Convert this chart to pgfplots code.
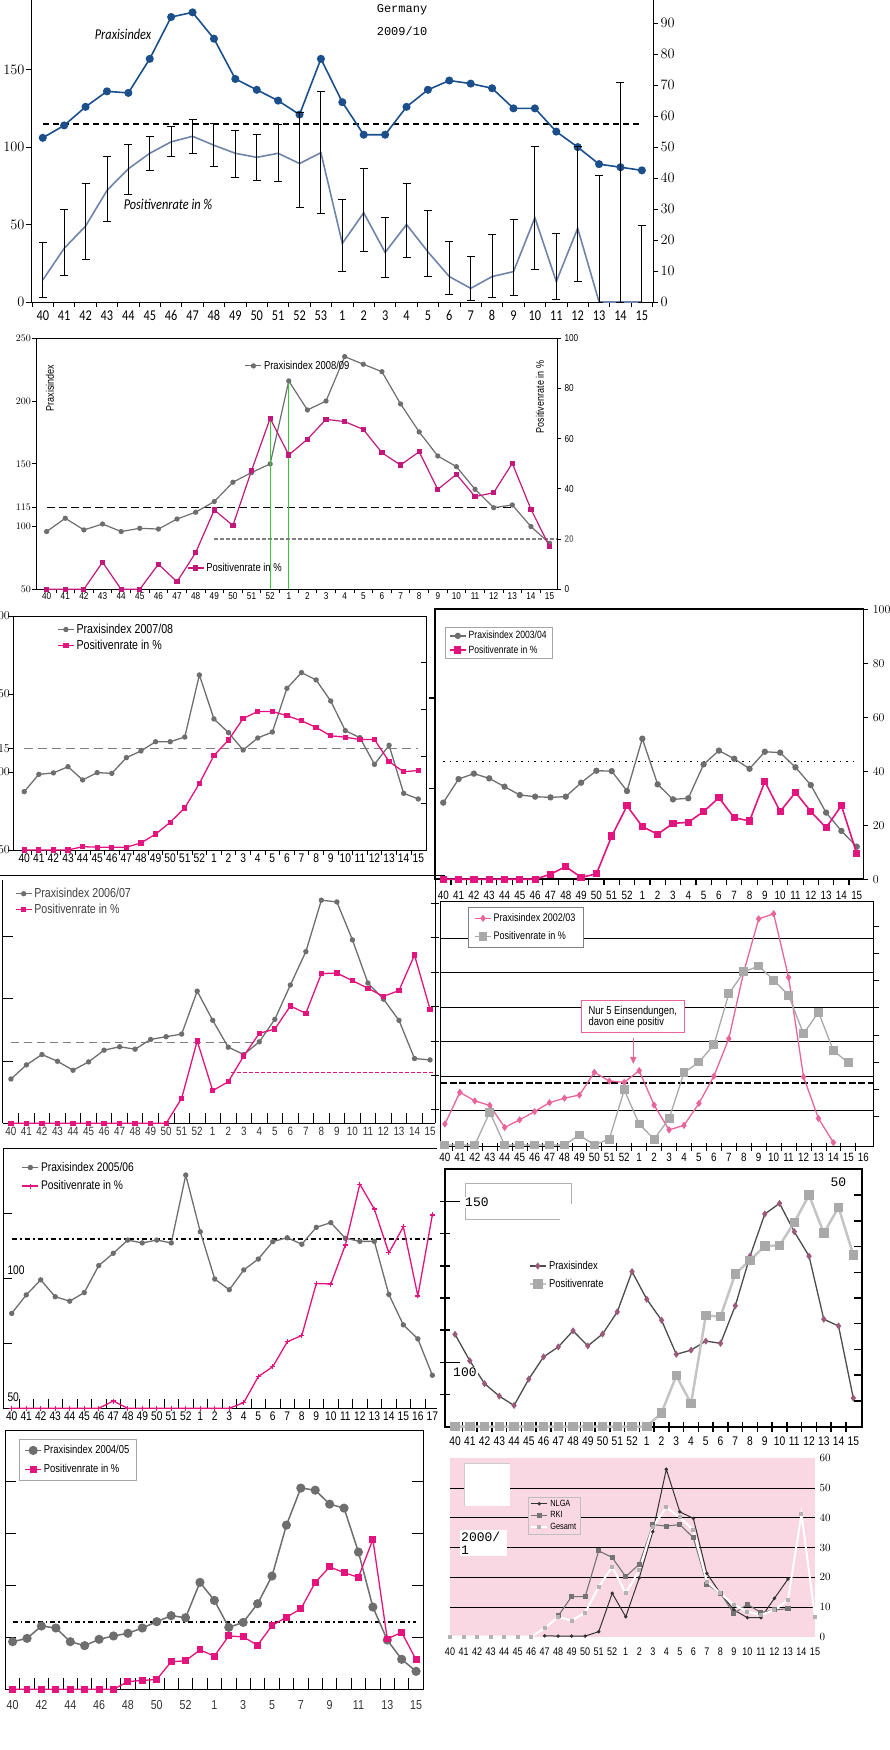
\documentclass[border=0pt]{standalone}
\usepackage{fontspec}
\setmainfont{Liberation Sans}
\newfontfamily\narrow[FakeStretch=0.82]{Liberation Sans}
\newfontfamily\hum[FakeStretch=0.82]{Carlito}
\newfontfamily\mono{Liberation Mono}
\usepackage{pgfplots}
\pgfplotsset{compat=1.18}
\usetikzlibrary{arrows.meta}

\definecolor{dblue}{HTML}{1B4F8C}
\definecolor{gblue}{HTML}{7084AA}
\definecolor{pgrey}{HTML}{6E6E6E}
\definecolor{magA}{HTML}{C2187C}
\definecolor{magB}{HTML}{E4147E}
\definecolor{pinkC}{HTML}{E8649A}
\definecolor{lgreyA}{HTML}{A9A9A9}
\definecolor{lgreyB}{HTML}{C4C4C4}
\definecolor{mauve}{HTML}{9C5A7A}
\definecolor{pinkbg}{HTML}{F9D8E4}
\definecolor{lgreen}{HTML}{33CC33}

\newcommand{\fs}[1]{\fontsize{#1}{#1}\selectfont}

\pgfplotsset{
  base/.style={scale only axis, anchor=south west, clip=false,
    major tick length=0pt, minor tick length=5pt,
    tick style={black, line width=0.8pt}, axis line style={black, line width=0.8pt},
    legend cell align=left,
    legend image code/.code={\draw[mark repeat=2,mark phase=2,##1] plot coordinates {(0pt,0pt) (8pt,0pt) (16pt,0pt)};},
  },
}

\begin{document}
\begin{tikzpicture}[x=1pt,y=1pt]
\useasboundingbox (0,0) rectangle (890,1750);
\clip (0,0) rectangle (890,1750);

% ================= Panel 1: Germany 2009/10 =================
\begin{axis}[base, at={(31pt,1448pt)}, width=622pt, height=302pt,
  xmin=-0.55, xmax=28.52, ymin=0, ymax=195,
  axis x line*=bottom, axis y line*=left, tick align=outside,
  xtick={0,...,28},
  xticklabels={40,41,42,43,44,45,46,47,48,49,50,51,52,53,1,2,3,4,5,6,7,8,9,10,11,12,13,14,15},
  minor xtick={-0.5,0.5,...,28.5},
  ytick={0,50,100,150}, minor ytick={0,50,100,150},
  tick label style={font=\hum\fs{15}},
  xticklabel style={yshift=-5pt}, yticklabel style={xshift=-3pt},
]
\addplot[forget plot, black, line width=1.3pt, dash pattern=on 6pt off 4pt] coordinates {(0,115) (28,115)};
\addplot[dblue, line width=1.6pt, mark=*, mark size=3.2pt] table {
x y
0 106
1 114
2 126
3 136
4 135
5 157
6 184
7 187
8 170
9 144
10 137
11 130
12 121
13 157
14 129
15 108
16 108
17 126
18 137
19 143
20 141
21 138
22 125
23 125
24 110
25 100
26 89
27 87
28 85
};
\end{axis}
\begin{axis}[base, at={(31pt,1448pt)}, width=622pt, height=302pt,
  xmin=-0.55, xmax=28.52, ymin=0, ymax=97.5,
  axis x line=none, axis y line*=right, tick align=outside,
  ytick={0,10,...,90}, minor ytick={0,10,...,90},
  tick label style={font=\hum\fs{15}}, yticklabel style={xshift=4pt},
]
\addplot[gblue, line width=1.6pt, no marks,
  error bars/.cd, y dir=both, y explicit,
  error bar style={black, line width=0.9pt},
  error mark options={black, rotate=90, mark size=4pt, line width=0.9pt}]
  table[x=x, y=y, y error plus=ep, y error minus=em] {
x y ep em
0 7.1 12.1 5.5
1 17.3 12.6 8.7
2 24.5 13.9 10.7
3 36 11.1 10
4 43 7.9 8.3
5 48 5.4 5.5
6 51.7 5.1 4.6
7 53.5 5.4 5.5
8 50.6 6.9 6.9
9 48 7.5 7.7
10 46.7 7.4 7.5
11 48 9.4 9.1
12 44.7 16.4 14.2
13 48.2 19.8 19.6
14 18.9 14.2 9
15 28.8 14.3 12.5
16 16 11.3 8
17 25 13.3 10.7
18 16.2 13.2 8.1
19 8.2 11.4 5.9
20 4.4 10.2 3.9
21 8.2 13.6 6.6
22 9.8 16.7 7.6
23 27.2 23.1 16.7
24 6.6 15.6 5.8
25 23.8 26.5 17.1
26 0 41 0
27 0 70.8 0
28 0 24.7 0
};
\end{axis}
\node[font=\hum\itshape\fs{15}] at (123,1716) {Praxisindex};
\node[font=\hum\itshape\fs{15}] at (168,1546) {Positivenrate in \%};
\node[font=\mono\fs{12}] at (402,1740) {Germany};
\node[font=\mono\fs{12}] at (402,1719) {2009/10};

% ================= Panel 2: 2008/09 =================
\begin{axis}[base, at={(36.4pt,1160.7pt)}, width=520.6pt, height=251pt,
  xmin=-0.55, xmax=27.4, ymin=50, ymax=250,
  xtick pos=left, ytick pos=left, tick align=outside, minor tick length=4pt,
  xtick={0,...,27},
  xticklabels={40,41,42,43,44,45,46,47,48,49,50,51,52,1,2,3,4,5,6,7,8,9,10,11,12,13,14,15},
  minor xtick={0.5,1.5,...,26.5},
  ytick={50,100,115,150,200,250}, minor ytick={50,100,115,150,200,250},
  tick label style={font=\narrow\fs{10}}, yticklabel style={xshift=-2pt},
  legend style={draw=none, fill=none, at={(0.40,0.89)}, anchor=west, font=\narrow\fs{11.5}, inner sep=0pt},
]
\addplot[forget plot, black, line width=1pt, dash pattern=on 8pt off 4pt] coordinates {(0,115) (25,115)};
\addplot[pgrey, line width=1.2pt, mark=*, mark size=2pt] table {
x y
0 96
1 106.6
2 97.3
3 102
4 96
5 98.6
6 98
7 106
8 111.4
9 119.9
10 135.3
11 143
12 149.9
13 216
14 192.9
15 200
16 235.4
17 229.3
18 223.4
19 197.7
20 175.4
21 156.2
22 147.7
23 129.7
24 115
25 117.2
26 100
27 86.7
};
\addlegendentry{Praxisindex 2008/09}
\addplot[forget plot, lgreen, line width=1.2pt] coordinates {(13,50) (13,216)};
\end{axis}
\begin{axis}[base, at={(36.4pt,1160.7pt)}, width=520.6pt, height=251pt,
  xmin=-0.55, xmax=27.4, ymin=0, ymax=100,
  hide x axis, axis y line*=right, tick align=outside, major tick length=4pt,
  ytick={0,20,...,100},
  yticklabels={0,{\color{gray}\bfseries 20},40,60,80,100},
  tick label style={font=\narrow\fs{10}},
  legend style={draw=none, fill=none, at={(0.289,0.085)}, anchor=west, font=\narrow\fs{11.5}, inner sep=0pt},
]
\addplot[forget plot, gray, line width=1.3pt, dash pattern=on 4pt off 2pt] coordinates {(9,20) (27.4,20)};
\addplot[magA, line width=1.2pt, mark=square*, mark size=2pt] table {
x y
0 0
1 0
2 0
3 10.8
4 0
5 0
6 10
7 3
8 14.6
9 31.6
10 25.4
11 47.3
12 68.1
13 53.5
14 59.8
15 67.7
16 66.8
17 63.7
18 54.4
19 49.5
20 54.8
21 39.8
22 45.8
23 36.9
24 38.5
25 50.2
26 31.9
27 17
};
\addlegendentry{Positivenrate in \%}
\addplot[forget plot, lgreen, line width=1.2pt] coordinates {(12,0) (12,68.1)};
\end{axis}
\node[rotate=90, font=\narrow\fs{11}] at (50,1362) {Praxisindex};
\node[rotate=90, font=\narrow\fs{11}] at (540,1353) {Positivenrate in \%};

% ================= Panel 3 left: 2007/08 =================
\begin{axis}[base, at={(13.3pt,900pt)}, width=412.7pt, height=234pt,
  xmin=-0.75, xmax=27.53, ymin=50, ymax=200,
  xtick pos=left, ytick pos=left, tick align=outside,
  xtick={0,...,27},
  xticklabels={40,41,42,43,44,45,46,47,48,49,50,51,52,1,2,3,4,5,6,7,8,9,10,11,12,13,14,15},
  minor xtick={0.5,1.5,...,26.5},
  ytick={50,100,115,150,200}, minor ytick={50,100,115,150,200},
  tick label style={font=\narrow\fs{12.5}},
]
\addplot[forget plot, gray, line width=1.2pt, dash pattern=on 9pt off 5pt] coordinates {(0,115) (27,115)};
\addplot[pgrey, line width=1.3pt, mark=*, mark size=2pt] table {
x y
0 87.4
1 98.5
2 99.4
3 103.4
4 94.9
5 99.6
6 99.1
7 109.2
8 113.5
9 119.4
10 119.4
11 122.4
12 162.2
13 134
14 125.2
15 114.1
16 121.8
17 125.6
18 153.6
19 163.7
20 159
21 145.5
22 126.5
23 122
24 104.9
25 117.1
26 86.3
27 82.7
};
\end{axis}
\begin{axis}[base, at={(13.3pt,900pt)}, width=412.7pt, height=234pt,
  xmin=-0.75, xmax=27.53, ymin=0, ymax=50,
  hide x axis, axis y line*=right, tick align=inside, major tick length=5pt,
  ytick={10,20,30,40}, yticklabels={},
  legend style={draw=none, fill=none, at={(0.106,0.975)}, anchor=north west, font=\narrow\fs{13}, inner sep=0pt, row sep=1pt},
]
\addlegendimage{pgrey, line width=1.3pt, mark=*, mark size=2pt}
\addlegendentry{Praxisindex 2007/08}
\addplot[magB, line width=1.3pt, mark=square*, mark size=2pt] table {
x y
0 0
1 0
2 0
3 0
4 0.7
5 0.6
6 0.6
7 0.6
8 1.5
9 3.4
10 5.9
11 9
12 14.2
13 20.2
14 23.5
15 28.1
16 29.6
17 29.6
18 28.7
19 27.6
20 26.2
21 24.4
22 24.1
23 23.6
24 23.6
25 18.9
26 16.7
27 17
};
\addlegendentry{Positivenrate in \%}
\end{axis}
\draw[black, line width=0.8pt] (0,875) -- (445,875);

% ================= Panel 3 right: 2003/04 =================
\begin{axis}[base, at={(435pt,870.7pt)}, width=428.3pt, height=270pt,
  xmin=-0.54, xmax=27.43, ymin=50, ymax=199,
  axis line style={line width=1.6pt}, tick style={line width=1.2pt},
  xtick pos=left, ytick pos=left, tick align=outside, minor tick length=6pt,
  xtick={0,...,27},
  xticklabels={40,41,42,43,44,45,46,47,48,49,50,51,52,1,2,3,4,5,6,7,8,9,10,11,12,13,14,15},
  minor xtick={0.5,1.5,...,26.5},
  ytick={100,150}, yticklabels={}, minor ytick={100,150},
  tick label style={font=\narrow\fs{12}}, xticklabel style={yshift=-8pt},
]
\addplot[forget plot, black, line width=1.2pt, dash pattern=on 1.5pt off 5pt] coordinates {(0,115) (27,115)};
\addplot[pgrey, line width=1.3pt, mark=*, mark size=2.5pt] table {
x y
0 92.3
1 105.3
2 108.3
3 105.7
4 101.1
5 96.5
6 95.6
7 95.2
8 95.6
9 103.3
10 109.9
11 109.7
12 98.7
13 127.6
14 102.4
15 94.1
16 94.7
17 113.4
18 121
19 116.5
20 111
21 120.4
22 119.9
23 111.8
24 102
25 86.8
26 76.7
27 68
};
\end{axis}
\begin{axis}[base, at={(435pt,870.7pt)}, width=428.3pt, height=270pt,
  xmin=-0.54, xmax=27.43, ymin=0, ymax=100,
  hide x axis, axis y line*=right, axis line style={line width=1.6pt}, tick style={line width=1.2pt},
  tick align=outside, major tick length=5pt,
  ytick={0,20,...,100},
  tick label style={font=\narrow\fs{12}}, yticklabel style={xshift=1pt},
  legend style={draw=gray!70, fill=white, at={(0.023,0.934)}, anchor=north west, font=\narrow\fs{10.5}, inner xsep=4pt, inner ysep=2pt, row sep=1pt},
]
\addlegendimage{pgrey, line width=1.3pt, mark=*, mark size=2.5pt}
\addlegendentry{Praxisindex 2003/04}
\addplot[magB, line width=1.6pt, mark=square*, mark size=2.8pt] table {
x y
0 0
1 0
2 0
3 0
4 0
5 0
6 0
7 1.9
8 4.7
9 0.7
10 2
11 16
12 27.2
13 19.5
14 16.7
15 20.7
16 21.1
17 25.1
18 30.2
19 22.8
20 21.6
21 36.2
22 25.1
23 32.2
24 25.1
25 19.1
26 27.3
27 9.6
};
\addlegendentry{Positivenrate in \%}
\end{axis}

% ================= Panel 4 left: 2006/07 =================
\begin{axis}[base, at={(2.7pt,626.7pt)}, width=432.3pt, height=243.3pt,
  xmin=-0.53, xmax=27.32, ymin=50, ymax=245,
  axis x line*=bottom, axis y line*=left, tick align=inside, minor tick length=10pt,
  xtick={0,...,27},
  xticklabels={40,41,42,43,44,45,46,47,48,49,50,51,52,1,2,3,4,5,6,7,8,9,10,11,12,13,14,15},
  minor xtick={0.5,1.5,...,26.5},
  ytick={100,150,200}, yticklabels={}, minor ytick={100,150,200},
  tick label style={font=\narrow\fs{12}, color=black!80},
]
\addplot[forget plot, gray, line width=1.1pt, dash pattern=on 8pt off 5pt] coordinates {(0,115) (15.6,115)};
\addplot[pgrey, line width=1.3pt, mark=*, mark size=2pt] table {
x y
0 85.5
1 96.8
2 105.1
3 99.7
4 92.5
5 99.2
6 108.6
7 111.3
8 109.4
9 117.2
10 119.4
11 121.5
12 155.9
13 132.5
14 111
15 105.1
16 115.3
17 133.3
18 160.8
19 187.6
20 228.8
21 227.4
22 197
23 162.4
24 149.5
25 132.5
26 101.9
27 100.8
};
\end{axis}
\begin{axis}[base, at={(2.7pt,626.7pt)}, width=432.3pt, height=243.3pt,
  xmin=-0.53, xmax=27.32, ymin=0, ymax=96.05,
  hide x axis, axis y line*=right, tick align=center, major tick length=8pt,
  ytick={5.3,18.9,32.5,46.1,59.7,73.3,86.9}, yticklabels={},
  legend style={draw=none, fill=none, at={(0.028,0.975)}, anchor=north west, font=\narrow\fs{13}, text=black!75, inner sep=0pt, row sep=1pt},
]
\addlegendimage{pgrey, line width=1.3pt, mark=*, mark size=2pt}
\addlegendentry{Praxisindex 2006/07}
\addplot[forget plot, magB, line width=1.3pt, dash pattern=on 4pt off 2pt] coordinates {(14.2,20) (27.32,20)};
\addplot[magB, line width=1.3pt, mark=square*, mark size=2pt] table {
x y
0 0
1 0
2 0
3 0
4 0
5 0
6 0
7 0
8 0
9 0
10 0
11 9.9
12 32.5
13 12.9
14 16.4
15 26.6
16 35.5
17 37.2
18 46.3
19 43.4
20 59.1
21 59.3
22 56.3
23 53.3
24 50.1
25 52.4
26 66.4
27 45
};
\addlegendentry{Positivenrate in \%}
\end{axis}

% ================= Panel 4 right: 2002/03 =================
\begin{axis}[base, at={(440pt,603.3pt)}, width=433.3pt, height=245pt,
  xmin=-0.33, xmax=28.67, ymin=-0.05, ymax=7.07,
  xtick pos=left, ytick pos=left, tick align=center, minor tick length=8pt,
  xtick={0,...,28},
  xticklabels={40,41,42,43,44,45,46,47,48,49,50,51,52,1,2,3,4,5,6,7,8,9,10,11,12,13,14,15,16},
  minor xtick={0.5,1.5,...,27.5},
  ytick={1,2,3,4,5,6}, yticklabels={}, ymajorgrids, grid style={black, line width=0.9pt},
  tick label style={font=\narrow\fs{12}}, xticklabel style={yshift=-3pt},
  legend style={draw=gray, fill=white, at={(0.065,0.977)}, anchor=north west, font=\narrow\fs{11}, inner xsep=6pt, inner ysep=4pt, row sep=5pt},
]
\addplot[forget plot, black, line width=1.8pt, dash pattern=on 7pt off 2.5pt] coordinates {(-0.33,1.79) (28.67,1.79)};
\addplot[pinkC, line width=1.3pt, mark=diamond*, mark size=2.6pt] table {
x y
0 0.61
1 1.53
2 1.28
3 1.15
4 0.51
5 0.73
6 0.97
7 1.23
8 1.36
9 1.45
10 2.11
11 1.86
12 1.82
13 2.16
14 1.16
15 0.44
16 0.57
17 1.21
18 2
19 3.09
20 5.03
21 6.57
22 6.72
23 4.87
24 1.98
25 0.77
26 0.07
};
\addlegendentry{Praxisindex 2002/03}
\addplot[lgreyA, line width=1.3pt, mark=square*, mark size=3.8pt] table {
x y
0 0
1 0
2 0
3 0.95
4 0
5 0
6 0
7 0
8 0
9 0.29
10 0
11 0.17
12 1.6
13 0.61
14 0.17
15 0.76
16 2.1
17 2.41
18 2.91
19 4.39
20 5.03
21 5.2
22 4.79
23 4.35
24 3.23
25 3.86
26 2.74
27 2.39
};
\addlegendentry{Positivenrate in \%}
\end{axis}
\begin{axis}[base, at={(440pt,603.3pt)}, width=433.3pt, height=245pt,
  xmin=-0.33, xmax=28.67, ymin=-0.05, ymax=7.07,
  hide x axis, axis y line*=right, tick align=outside, major tick length=6pt,
  ytick={0.82,1.62,2.4,3.19,3.99,4.79,5.57,6.34}, yticklabels={},
]
\addplot[draw=none] coordinates {(0,0)};
\end{axis}
\node[draw=pinkC, line width=1pt, fill=white, align=left, font=\narrow\fs{11.5}, inner xsep=7pt, inner ysep=5pt] at (632.8,733.2) {Nur 5 Einsendungen,\\davon eine positiv};
\draw[pinkC, line width=1.3pt, -{Triangle[length=7pt,width=6pt]}] (633.3,712) -- (633.3,686);

% ================= Panel 5 left: 2005/06 =================
\begin{axis}[base, at={(3.3pt,341.7pt)}, width=433.4pt, height=260pt,
  xmin=-0.58, xmax=29.3, ymin=50, ymax=150,
  axis x line*=bottom, axis y line*=left, tick align=inside, minor tick length=9pt,
  xtick={0,...,29},
  xticklabels={40,41,42,43,44,45,46,47,48,49,50,51,52,1,2,3,4,5,6,7,8,9,10,11,12,13,14,15,16,17},
  minor xtick={0.5,1.5,...,28.5},
  ytick={75,100,125}, yticklabels={}, minor ytick={75,100,125},
  tick label style={font=\narrow\fs{12.5}},
]
\draw[black, line width=0.8pt] (rel axis cs:0,1) -- (rel axis cs:1,1);
\addplot[forget plot, black, line width=1.8pt, dash pattern=on 5pt off 3pt on 2pt off 3pt] coordinates {(0,115) (29,115)};
\addplot[pgrey, line width=1.3pt, mark=*, mark size=2pt] table {
x y
0 86.5
1 93.6
2 99.4
3 92.9
4 91.2
5 94.5
6 104.9
7 109.6
8 114.7
9 113.6
10 114.7
11 113.6
12 139.7
13 117.9
14 99.7
15 95.6
16 103.2
17 107.4
18 114.1
19 115.6
20 113.1
21 119.6
22 121.4
23 115.4
24 114.2
25 114.2
26 93.8
27 82.1
28 76.7
29 62.7
};
\end{axis}
\begin{axis}[base, at={(3.3pt,341.7pt)}, width=433.4pt, height=260pt,
  xmin=-0.58, xmax=29.3, ymin=0, ymax=50, hide axis,
  legend style={draw=none, fill=none, at={(0.042,0.955)}, anchor=north west, font=\narrow\fs{12.5}, inner sep=0pt, row sep=4pt},
]
\addlegendimage{pgrey, line width=1.3pt, mark=*, mark size=2pt}
\addlegendentry{Praxisindex 2005/06}
\addplot[magB, line width=1.3pt, mark=+, mark size=2.5pt] table {
x y
0 0
1 0
2 0
3 0
4 0
5 0
6 0
7 1.4
8 0
9 0
10 0
11 0
12 0
13 0
14 0
15 0
16 1.1
17 6.1
18 8
19 12.8
20 14
21 24
22 23.9
23 31.4
24 43.1
25 38.3
26 29.9
27 34.9
28 21.6
29 37.2
};
\addlegendentry{Positivenrate in \%}
\end{axis}
\node[anchor=west, font=\narrow\fs{12.5}, inner sep=0pt] at (7.3,479.3) {100};
\node[anchor=west, font=\narrow\fs{12.5}, inner sep=0pt] at (7.3,352.7) {50};

% ================= Panel 5 right =================
\begin{axis}[base, at={(445pt,323.3pt)}, width=416.7pt, height=257.4pt,
  xmin=-0.68, xmax=27.57, ymin=80, ymax=160,
  axis line style={line width=2pt}, tick style={line width=1.5pt},
  xtick pos=left, ytick pos=left, tick align=center, minor tick length=10pt,
  xtick={0,...,27},
  xticklabels={40,41,42,43,44,45,46,47,48,49,50,51,52,1,2,3,4,5,6,7,8,9,10,11,12,13,14,15},
  minor xtick={0.5,1.5,...,26.5},
  ytick={90,100,...,150}, yticklabels={}, minor ytick={90,100,...,150},
  tick label style={font=\narrow\fs{12.5}}, xticklabel style={yshift=-7pt},
  legend style={draw=none, fill=none, at={(0.2,0.652)}, anchor=north west, font=\narrow\fs{11.5}, inner sep=0pt, row sep=4pt},
]
\addplot[black!70, line width=1.3pt, mark=diamond*, mark size=2.5pt, mark options={fill=mauve, draw=mauve}] table {
x y
0 108.7
1 100.5
2 93.4
3 89.5
4 86.6
5 94.8
6 101.7
7 104.8
8 109.8
9 105.1
10 108.8
11 115.7
12 128.2
13 119.6
14 113.1
15 102.5
16 103.8
17 106.6
18 105.9
19 117.6
20 133
21 146.1
22 149.4
23 140.6
24 133
25 113.4
26 111.3
27 88.9
};
\addlegendentry{Praxisindex}
\addlegendimage{lgreyB, line width=2.5pt, mark=square*, mark size=3.5pt, mark options={fill=lgreyA, draw=lgreyA}}
\addlegendentry{Positivenrate}
\end{axis}
\begin{axis}[base, at={(445pt,323.3pt)}, width=416.7pt, height=257.4pt,
  xmin=-0.68, xmax=27.57, ymin=0, ymax=50,
  hide x axis, axis y line*=right, axis line style={line width=2pt}, tick style={line width=1.5pt},
  tick align=inside, major tick length=8pt,
  ytick={5,10,...,45}, yticklabels={},
]
\addplot[lgreyB, line width=2.5pt, mark=square*, mark size=3.5pt, mark options={fill=lgreyA, draw=lgreyA}] table {
x y
0 0
1 0
2 0
3 0
4 0
5 0
6 0
7 0
8 0
9 0
10 0
11 0
12 0
13 0
14 2.7
15 9.9
16 4.5
17 21.6
18 21.4
19 29.7
20 32.3
21 35.1
22 35.2
23 39.7
24 45
25 37.6
26 42.6
27 33.4
};
\end{axis}
\draw[gray!60, line width=0.7pt] (465,530.7) -- (465,566.7) -- (571.7,566.7) -- (571.7,546);
\draw[gray!60, line width=0.7pt] (465,530.7) -- (560,530.7);
\draw[black, line width=1.5pt] (443,548.3) -- (460,548.3);
\draw[black, line width=1.5pt] (443,387.7) -- (460,387.7);
\node[anchor=west, font=\mono\fs{13}, fill=white, inner sep=1pt] at (464,547.3) {150};
\node[anchor=west, font=\mono\fs{13}, fill=white, inner sep=1pt] at (452,377.7) {100};
\node[font=\mono\fs{13}] at (838.3,567.3) {50};

% ================= Panel 6 left: 2004/05 =================
\begin{axis}[base, at={(5pt,60.7pt)}, width=418.3pt, height=259.3pt,
  xmin=-0.53, xmax=28.5, ymin=50, ymax=300,
  xtick pos=left, tick align=inside, minor tick length=11pt,
  xtick={0,...,28},
  xticklabels={40,,42,,44,,46,,48,,50,,52,,1,,3,,5,,7,,9,,11,,13,,15},
  minor xtick={0.5,1.5,...,27.5},
  ytick={100,150,200,250}, yticklabels={}, minor ytick={100,150,200,250},
  tick label style={font=\narrow\fs{13}, color=black!80}, xticklabel style={yshift=-8pt},
]
\addplot[forget plot, black, line width=1.5pt, dash pattern=on 5pt off 3pt on 1.5pt off 3pt] coordinates {(0,115) (28,115)};
\addplot[pgrey, line width=1.5pt, mark=*, mark size=3.8pt] table {
x y
0 95.9
1 99.1
2 111
3 109.1
4 95.9
5 92.1
6 98.2
7 101.4
8 104
9 109.1
10 115.2
11 121
12 119
13 153.1
14 135.7
15 109.7
16 114.5
17 132.5
18 159.2
19 208.3
20 244
21 242
22 228.5
23 224.7
24 182.3
25 129.3
26 97.5
27 78.9
28 67.3
};
\end{axis}
\begin{axis}[base, at={(5pt,60.7pt)}, width=418.3pt, height=259.3pt,
  xmin=-0.53, xmax=28.5, ymin=0, ymax=50, hide axis,
  legend style={draw=gray!70, fill=white, at={(0.034,0.964)}, anchor=north west, font=\narrow\fs{11.5}, inner xsep=5pt, inner ysep=4pt, row sep=5pt},
]
\addlegendimage{pgrey, line width=1.5pt, mark=*, mark size=3.8pt}
\addlegendentry{Praxisindex 2004/05}
\addplot[magB, line width=1.3pt, mark=square*, mark size=2.8pt] table {
x y
0 0
1 0
2 0
3 0
4 0
5 0
6 0
7 0
8 1.5
9 1.7
10 1.9
11 5.3
12 5.5
13 7.6
14 6.4
15 10.3
16 10.1
17 8.5
18 12.3
19 13.9
20 15.5
21 20.6
22 23.6
23 22.5
24 21.6
25 28.9
26 9.7
27 11
28 5.7
};
\addlegendentry{Positivenrate in \%}
\end{axis}

% ================= Panel 6 right: 2000/01 =================
\begin{axis}[base, at={(450pt,113.3pt)}, width=365pt, height=178.4pt,
  xmin=0, xmax=27, ymin=0, ymax=60,
  axis background/.style={fill=pinkbg},
  axis line style={draw=none}, tick style={draw=none},
  xtick={0,...,27},
  xticklabels={40,41,42,43,44,45,46,47,48,49,50,51,52,1,2,3,4,5,6,7,8,9,10,11,12,13,14,15},
  ytick={10,20,...,50}, extra y ticks={0,60}, extra y tick style={grid=none},
  ymajorgrids, grid style={black, line width=0.9pt},
  yticklabel pos=right,
  tick label style={font=\narrow\fs{11}}, xticklabel style={yshift=-8pt}, yticklabel style={xshift=1pt},
  legend style={draw=gray!50, fill=pinkbg, at={(0.214,0.785)}, anchor=north west, font=\narrow\fs{9}, inner xsep=2pt, inner ysep=1pt, row sep=0pt},
]
\addplot[black!80, line width=1pt, mark=*, mark size=1.2pt] table {
x y
7 0.3
8 0.2
9 0.2
10 0.2
11 1.7
12 14.6
13 6.7
14 19.8
15 35.3
16 56.3
17 42
18 39.8
19 21.3
20 14.6
21 9
22 6.4
23 6.4
24 12.9
25 19.4
};
\addlegendentry{NLGA}
\addplot[black!55, line width=1.1pt, mark=square*, mark size=2pt] table {
x y
8 7
9 13.5
10 13.5
11 28.9
12 26.6
13 20.2
14 24.4
15 37.7
16 37.2
17 37.7
18 33.3
19 17.7
20 14.6
21 7.8
22 10.9
23 8.1
24 9
25 9.4
};
\addlegendentry{RKI}
\addplot[white, line width=2pt, mark=square*, mark size=1pt, mark options={fill=white, draw=gray!60}] table {
x y
0 0
1 0
2 0
3 0
4 0
5 0
6 0
7 2.8
8 6.7
9 5.4
10 8.1
11 16.8
12 23.5
13 14.6
14 22.4
15 37
16 43.5
17 40.1
18 35.9
19 18.5
20 14.6
21 10.7
22 8.4
23 7.3
24 9
25 12.3
26 41.3
27 6.7
};
\addlegendentry{Gesamt}
\end{axis}
\fill[white] (464.3,244) rectangle (510,286.7);
\draw[gray!40, line width=0.6pt] (464.3,244) -- (464.3,286.7) -- (510,286.7);
\fill[white] (460,194) rectangle (506.7,220);
\node[anchor=west, font=\mono\fs{13}, inner sep=0pt] at (461,212.7) {2000/};
\node[anchor=west, font=\mono\fs{13}, inner sep=0pt] at (461,199.5) {1};

\end{tikzpicture}
\end{document}
